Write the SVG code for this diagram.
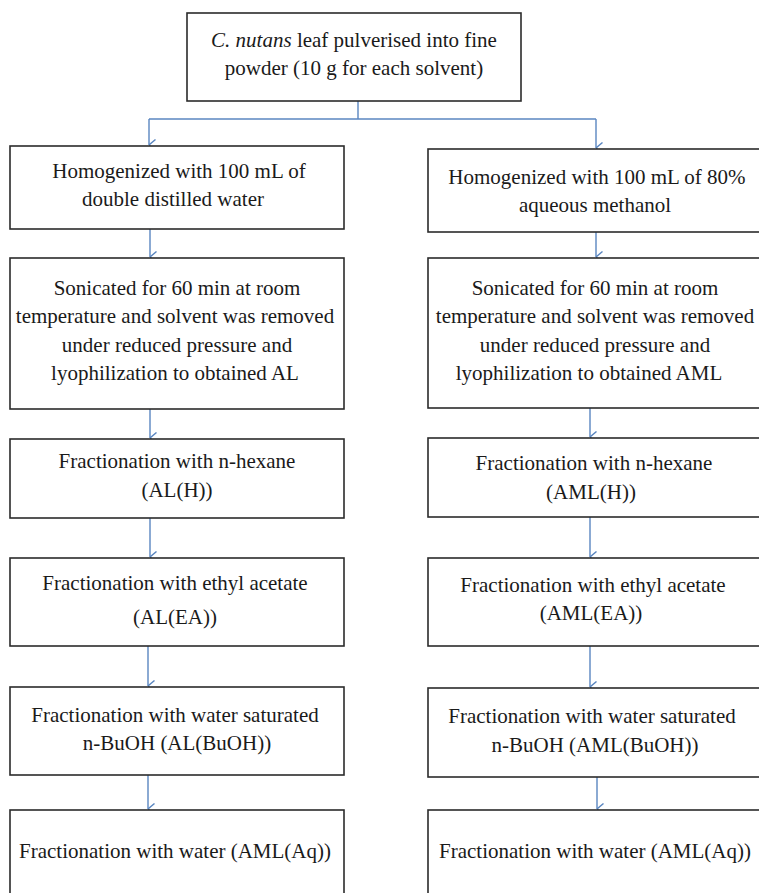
<svg xmlns="http://www.w3.org/2000/svg" width="759" height="893" viewBox="0 0 759 893">
<style>
  .box { fill: #ffffff; stroke: #2b2b2b; stroke-width: 1.6; }
  .t { font-family: "Liberation Serif", "Times New Roman", serif; font-size: 21px; fill: #1a1a1a; text-anchor: middle; }
  .c { fill: none; stroke: #5a86c0; stroke-width: 1.4; }
</style>
<defs>
  <marker id="ah" viewBox="0 0 12 8" refX="6" refY="7.5" markerWidth="12" markerHeight="8" markerUnits="userSpaceOnUse" orient="auto-start-reverse">
    <path d="M0.5,1 L6,7.5 L11.5,1" fill="none" stroke="#5a86c0" stroke-width="1.4"/>
  </marker>
</defs>
<rect width="759" height="893" fill="#ffffff"/>

<g id="connectors">
  <path class="c" d="M358,101 V119"/>
  <path class="c" d="M149,119 H596"/>
  <path class="c" d="M149,119 V145" marker-end="url(#ah)"/>
  <path class="c" d="M596,119 V148" marker-end="url(#ah)"/>
  <path class="c" d="M150,229 V257" marker-end="url(#ah)"/>
  <path class="c" d="M596,232 V257" marker-end="url(#ah)"/>
  <path class="c" d="M150,409 V438" marker-end="url(#ah)"/>
  <path class="c" d="M590,408 V437" marker-end="url(#ah)"/>
  <path class="c" d="M150,518 V557" marker-end="url(#ah)"/>
  <path class="c" d="M590,517 V557" marker-end="url(#ah)"/>
  <path class="c" d="M148,646 V686" marker-end="url(#ah)"/>
  <path class="c" d="M590,646 V687" marker-end="url(#ah)"/>
  <path class="c" d="M148,775 V809" marker-end="url(#ah)"/>
  <path class="c" d="M597,777 V809" marker-end="url(#ah)"/>
</g>

<g id="n-start">
  <rect class="box" x="187" y="13" width="334" height="88"/>
  <text class="t" x="354" y="47"><tspan font-style="italic">C. nutans</tspan> leaf pulverised into fine</text>
  <text class="t" x="354" y="75">powder (10 g for each solvent)</text>
</g>

<g id="n-L1">
  <rect class="box" x="10" y="146" width="334" height="83"/>
  <text class="t" x="179" y="178">Homogenized with 100 mL of</text>
  <text class="t" x="173" y="206">double distilled water</text>
</g>
<g id="n-L2">
  <rect class="box" x="10" y="258" width="334" height="151"/>
  <text class="t" x="177" y="295">Sonicated for 60 min at room</text>
  <text class="t" x="175" y="323">temperature and solvent was removed</text>
  <text class="t" x="177" y="352">under reduced pressure and</text>
  <text class="t" x="175" y="380">lyophilization to obtained AL</text>
</g>
<g id="n-L3">
  <rect class="box" x="10" y="439" width="334" height="79"/>
  <text class="t" x="177" y="468">Fractionation with n-hexane</text>
  <text class="t" x="177" y="497">(AL(H))</text>
</g>
<g id="n-L4">
  <rect class="box" x="10" y="558" width="334" height="88"/>
  <text class="t" x="175" y="590">Fractionation with ethyl acetate</text>
  <text class="t" x="175" y="624">(AL(EA))</text>
</g>
<g id="n-L5">
  <rect class="box" x="10" y="687" width="334" height="88"/>
  <text class="t" x="175" y="722">Fractionation with water saturated</text>
  <text class="t" x="177" y="750">n-BuOH (AL(BuOH))</text>
</g>
<g id="n-L6">
  <rect class="box" x="10" y="810" width="334" height="100"/>
  <text class="t" x="175" y="858">Fractionation with water (AML(Aq))</text>
</g>

<g id="n-R1">
  <rect class="box" x="428" y="149" width="340" height="83"/>
  <text class="t" x="597" y="184">Homogenized with 100 mL of 80%</text>
  <text class="t" x="595" y="212">aqueous methanol</text>
</g>
<g id="n-R2">
  <rect class="box" x="428" y="258" width="340" height="150"/>
  <text class="t" x="595" y="295">Sonicated for 60 min at room</text>
  <text class="t" x="595" y="323">temperature and solvent was removed</text>
  <text class="t" x="595" y="352">under reduced pressure and</text>
  <text class="t" x="589" y="380">lyophilization to obtained AML</text>
</g>
<g id="n-R3">
  <rect class="box" x="428" y="438" width="340" height="79"/>
  <text class="t" x="594" y="470">Fractionation with n-hexane</text>
  <text class="t" x="591" y="499">(AML(H))</text>
</g>
<g id="n-R4">
  <rect class="box" x="428" y="558" width="340" height="88"/>
  <text class="t" x="593" y="592">Fractionation with ethyl acetate</text>
  <text class="t" x="591" y="620">(AML(EA))</text>
</g>
<g id="n-R5">
  <rect class="box" x="428" y="688" width="340" height="89"/>
  <text class="t" x="592" y="723">Fractionation with water saturated</text>
  <text class="t" x="595" y="752">n-BuOH (AML(BuOH))</text>
</g>
<g id="n-R6">
  <rect class="box" x="428" y="810" width="340" height="100"/>
  <text class="t" x="595" y="858">Fractionation with water (AML(Aq))</text>
</g>
</svg>
